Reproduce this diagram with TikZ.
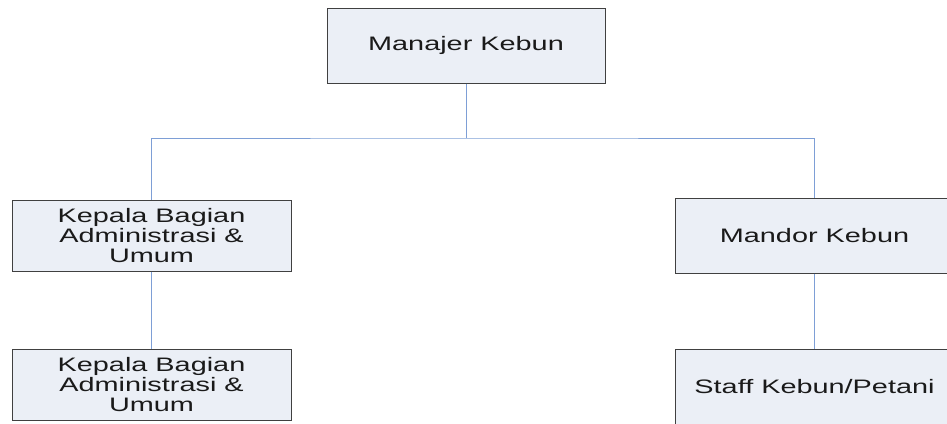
\documentclass[tikz,border=0pt]{standalone}
\usepackage{fontspec}
\setmainfont[FakeStretch=1.48]{Liberation Sans}
\definecolor{boxfill}{HTML}{EBEFF6}
\definecolor{boxline}{HTML}{404040}
\definecolor{conn}{HTML}{7E9FD6}
\definecolor{txt}{HTML}{1A1A1A}
\begin{document}
\begin{tikzpicture}[x=1pt,y=-1pt,
  orgbox/.style={draw=boxline,fill=boxfill,line width=1pt,rectangle,minimum width=279pt,minimum height=75pt,inner sep=0pt,align=center,font=\fontsize{19.5}{20}\selectfont,text=txt},
  link/.style={draw=conn,line width=1pt}]
\useasboundingbox (0,0) rectangle (947,423);
\clip (0,0) rectangle (947,423);
\node[orgbox,minimum width=278pt] (mgr) at (466,45.5) {Manajer Kebun};
\node[orgbox,minimum height=71pt] (kb1) at (151.5,235.5) {Kepala Bagian\\Administrasi \&\\Umum};
\node[orgbox,minimum height=71pt] (kb2) at (151.5,384.5) {Kepala Bagian\\Administrasi \&\\Umum};
\node[orgbox] (mdr) at (814.5,235.5) {Mandor Kebun};
\node[orgbox] (stf) at (814.5,386.5) {Staff Kebun/Petani};
\coordinate (j) at (466,138);
\draw[link] (mgr.south) -- (j);
\draw[link] (kb1.north) |- (j) -| (mdr.north);
\draw[link] (kb1.south) -- (kb2.north);
\draw[link] (mdr.south) -- (stf.north);
\end{tikzpicture}
\end{document}
